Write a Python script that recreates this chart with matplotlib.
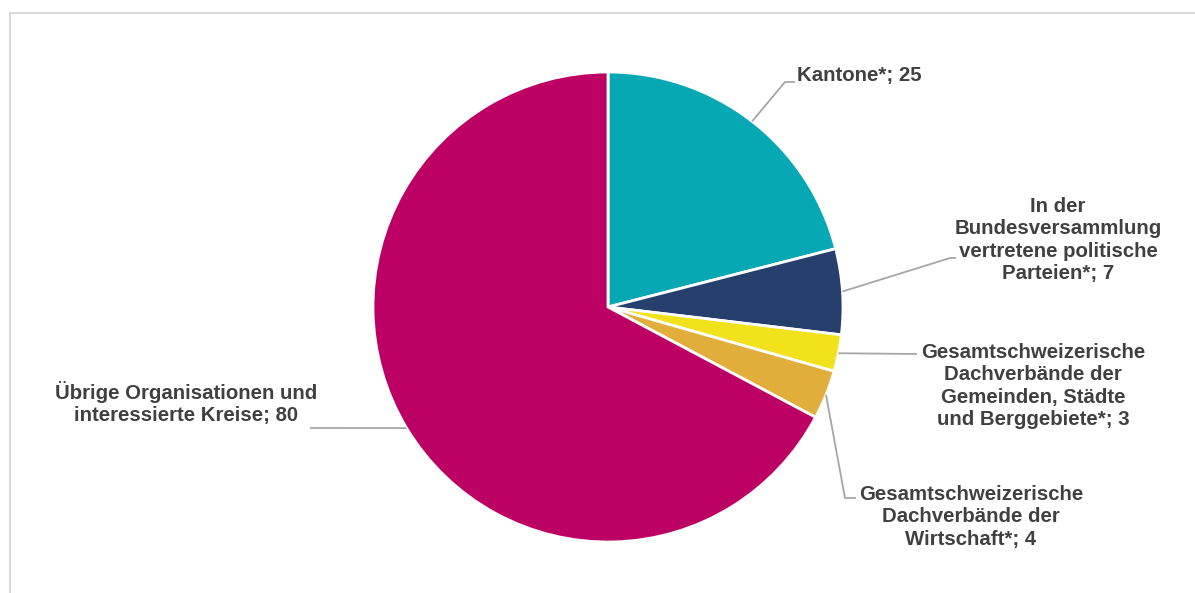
import numpy as np
import matplotlib
matplotlib.use("Agg")
import matplotlib.pyplot as plt
from matplotlib.lines import Line2D

categories = [
    "Kantone*",
    "In der\nBundesversammlung\nvertretene politische\nParteien*",
    "Gesamtschweizerische\nDachverbände der\nGemeinden, Städte\nund Berggebiete*",
    "Gesamtschweizerische\nDachverbände der\nWirtschaft*",
    "Übrige Organisationen und\ninteressierte Kreise",
]
values = [25, 7, 3, 4, 80]
colors = ["#06A9B3", "#273F6D", "#F1E21B", "#E2AE3B", "#BC0064"]

W, H = 1195, 593
fig = plt.figure(figsize=(W / 100, H / 100), dpi=100)
ax = fig.add_axes([0, 0, 1, 1])
ax.set_xlim(0, W)
ax.set_ylim(0, H)
ax.set_aspect("equal")
ax.axis("off")

cx, cy, R = 608, H - 307, 235
wedges, _ = ax.pie(values, colors=colors, startangle=90, counterclock=False,
                   center=(cx, cy), radius=R, frame=True,
                   wedgeprops=dict(edgecolor="white", linewidth=2))
ax.set_xlim(0, W)
ax.set_ylim(0, H)
ax.axis("off")

# label layout: text position (image coords) and leader-line bend points
layout = [
    dict(tx=797, ty=75, ha="left", path=[(785, 82), (795, 82)]),
    dict(tx=1058, ty=240, ha="center", path=[(950, 258), (956, 258)]),
    dict(tx=1033, ty=386, ha="center", path=[(917, 354)]),
    dict(tx=971, ty=517, ha="center", path=[(845, 498), (856, 498)]),
    dict(tx=186, ty=403, ha="center", path=[(310, 428)]),
]

txtcol = "#404040"
linecol = "#A6A6A6"
for w, cat, v, lay in zip(wedges, categories, values, layout):
    ang = np.deg2rad((w.theta1 + w.theta2) / 2)
    x0 = cx + R * np.cos(ang)
    y0 = cy + R * np.sin(ang)
    xs = [x0] + [p[0] for p in lay["path"]]
    ys = [y0] + [H - p[1] for p in lay["path"]]
    ax.plot(xs, ys, color=linecol, lw=1.3, solid_capstyle="butt", zorder=1)
    ax.text(lay["tx"], H - lay["ty"], f"{cat}; {v}", ha=lay["ha"], va="center",
            multialignment="center", fontsize=14.7, fontweight="bold",
            family=["Liberation Sans", "DejaVu Sans"], color=txtcol,
            linespacing=1.22)

# outer chart frame (top and left edges visible)
fig.add_artist(Line2D([9.5 / W, 1], [1 - 12.5 / H, 1 - 12.5 / H],
                      transform=fig.transFigure, color="#D9D9D9", lw=1.5))
fig.add_artist(Line2D([9.5 / W, 9.5 / W], [0, 1 - 12.5 / H],
                      transform=fig.transFigure, color="#D9D9D9", lw=1.5))

fig.savefig("out.png", dpi=100, facecolor="white")
